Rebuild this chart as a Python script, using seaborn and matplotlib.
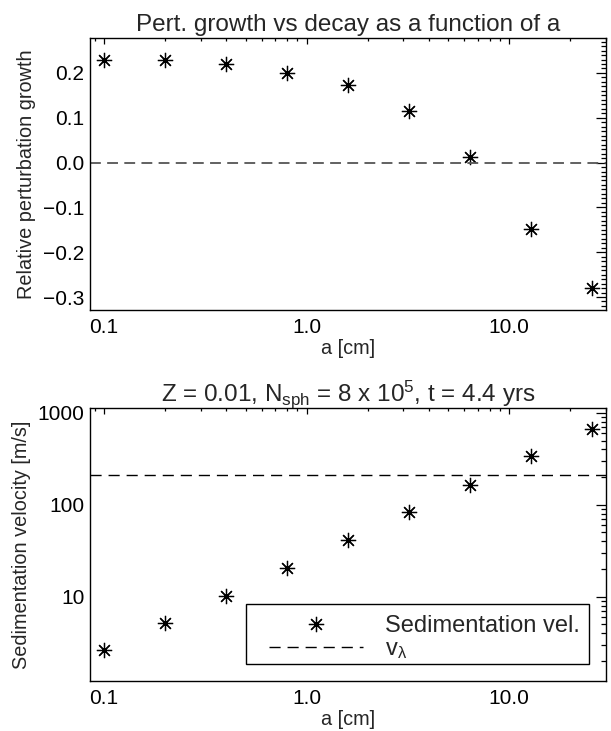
import numpy as np
import pandas as pd
import matplotlib
matplotlib.use("Agg")
import matplotlib.pyplot as plt
import seaborn as sns
from matplotlib.ticker import FixedLocator, FuncFormatter, MultipleLocator, LogLocator, NullFormatter
from matplotlib.lines import Line2D
from matplotlib.patches import Rectangle

# ---- data ----
a_cm = [0.1, 0.2, 0.4, 0.8, 1.6, 3.2, 6.4, 12.8, 25.6]
pert_growth = [0.230, 0.230, 0.220, 0.201, 0.172, 0.116, 0.013, -0.149, -0.279]
sed_vel = [2.6, 5.2, 10.3, 20.6, 41.7, 83.0, 163.0, 338.0, 660.0]
v_lambda = 209.0
zero_line = 0.0
x_ticks = [0.1, 1.0, 10.0]
x_tick_labels = ["0.1", "1.0", "10.0"]

top_title = "Pert. growth vs decay as a function of a"
bottom_title = r"Z = 0.01, N$_{\rm sph}$ = 8 x 10$^5$, t = 4.4 yrs"

sns.set_theme(style="white")
plt.rcParams['font.family'] = ['Liberation Sans', 'DejaVu Sans']
plt.rcParams['mathtext.default'] = 'regular'
plt.rcParams['mathtext.fontset'] = 'custom'
plt.rcParams['mathtext.rm'] = 'Liberation Sans'
plt.rcParams['mathtext.it'] = 'Liberation Sans'

fig = plt.figure(figsize=(6.11, 7.31), dpi=100)
W, H = 611, 731
ax1 = fig.add_axes([90 / W, (H - 310) / H, 516 / W, 272 / H])
ax2 = fig.add_axes([90 / W, (H - 681) / H, 516 / W, 273 / H])

star = (8, 2, 0)
mk = dict(marker=star, markersize=11, markeredgewidth=0.9, color='black', linestyle='', mec='black')

df1 = pd.DataFrame({"a": a_cm, "g": pert_growth})
df2 = pd.DataFrame({"a": a_cm, "v": sed_vel})

sns.lineplot(data=df1, x="a", y="g", ax=ax1, estimator=None, sort=False, **mk)
ax1.axhline(zero_line, color='#555555', lw=1.3, dashes=(6, 3.5))

sns.lineplot(data=df2, x="a", y="v", ax=ax2, estimator=None, sort=False, **mk)
ax2.axhline(v_lambda, color='black', lw=1.0, dashes=(8, 5))

for ax in (ax1, ax2):
    ax.set_xscale('log')
    ax.set_xlim(0.0853, 30)
    ax.xaxis.set_major_locator(FixedLocator(x_ticks))
    ax.xaxis.set_major_formatter(FuncFormatter(lambda v, p: x_tick_labels[x_ticks.index(min(x_ticks, key=lambda t: abs(t - v)))]))
    ax.xaxis.set_minor_locator(LogLocator(base=10, subs=np.arange(2, 10), numticks=20))
    ax.xaxis.set_minor_formatter(NullFormatter())
    ax.set_xlabel("a [cm]", fontsize=14.3, labelpad=1)
    for s in ax.spines.values():
        s.set_color('black')
        s.set_linewidth(1.0)
        s.set_visible(True)
    ax.tick_params(which='both', direction='in', top=True, right=True, colors='black',
                   labelsize=15, width=0.9)
    ax.tick_params(axis='x', which='major', length=4.5, pad=6)
    ax.tick_params(axis='x', which='minor', length=2.3)
    ax.tick_params(axis='y', which='major', length=7.5, pad=4)
    ax.tick_params(axis='y', which='minor', length=3.7)

ax1.set_ylim(-0.329, 0.278)
ax1.yaxis.set_major_locator(MultipleLocator(0.1))
ax1.yaxis.set_minor_locator(MultipleLocator(0.01))
ax1.yaxis.set_major_formatter(FuncFormatter(lambda v, p: f"{(0.0 if abs(v) < 1e-9 else v):.1f}".replace('-', '\u2212')))
ax1.set_ylabel("Relative perturbation growth", fontsize=14.3, labelpad=5)
ax1.set_title(top_title, fontsize=17.5, pad=5)

ax2.set_yscale('log')
ax2.set_ylim(1.21, 1130)
ax2.yaxis.set_major_locator(FixedLocator([10, 100, 1000]))
ax2.yaxis.set_major_formatter(FuncFormatter(lambda v, p: f"{int(round(v))}"))
ax2.yaxis.set_minor_locator(LogLocator(base=10, subs=np.arange(2, 10), numticks=20))
ax2.yaxis.set_minor_formatter(NullFormatter())
ax2.set_ylabel("Sedimentation velocity [m/s]", fontsize=14.3, labelpad=5)
ax2.set_title(bottom_title, fontsize=17.5, pad=5)

# legend
handles = [Line2D([], [], **mk),
           Line2D([], [], color='black', lw=1.0, dashes=(8, 5))]
labels = ["Sedimentation vel.", r"v$_{\lambda}$"]
leg = ax2.legend(handles, labels, loc='lower left', bbox_to_anchor=(0.347, 0.072),
                 frameon=False, fontsize=17, handlelength=4.0, handletextpad=0.9,
                 borderpad=0, borderaxespad=0, labelspacing=0.05)
ax2.add_patch(Rectangle((0.303, 0.062), 0.664, 0.220, transform=ax2.transAxes,
                        fill=False, edgecolor='black', lw=1.0, zorder=5))

fig.savefig("out.png", dpi=100, facecolor='white')
